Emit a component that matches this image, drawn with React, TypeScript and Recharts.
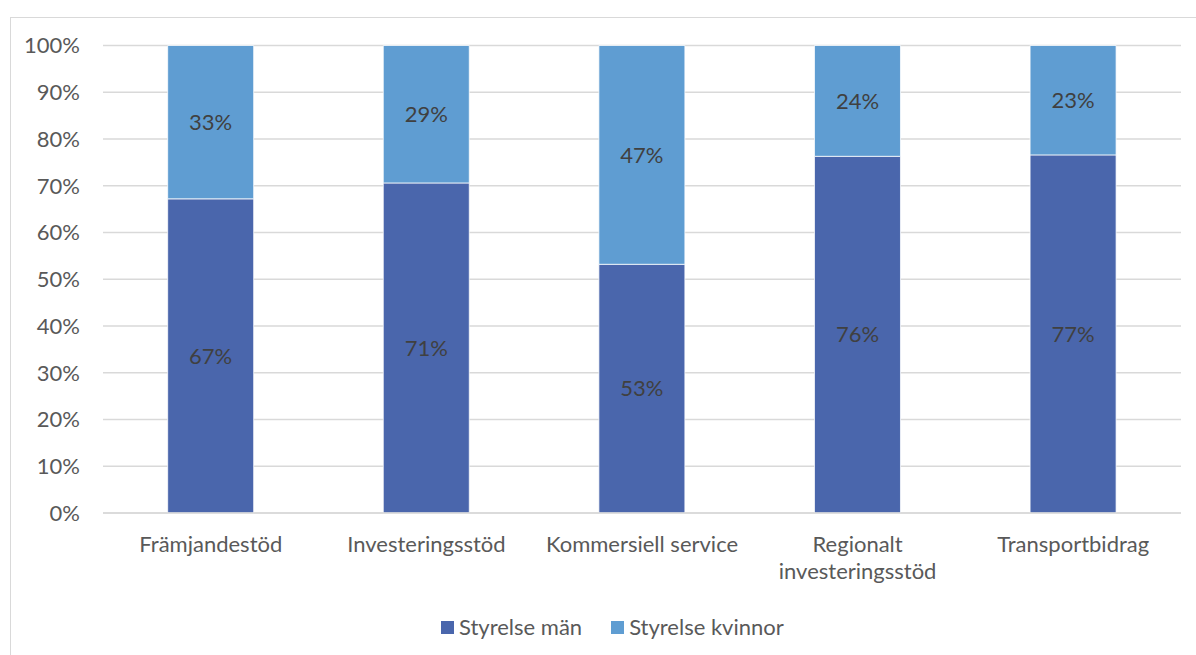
import React from 'react';
import { BarChart, Bar, XAxis, YAxis, CartesianGrid, Legend, LabelList } from 'recharts';

const categories = ['Främjandestöd', 'Investeringsstöd', 'Kommersiell service', 'Regionalt investeringsstöd', 'Transportbidrag'];
const menValues = [67.2, 70.6, 53.2, 76.3, 76.6];
const womenValues = [32.8, 29.4, 46.8, 23.7, 23.4];
const yTicks = [0, 10, 20, 30, 40, 50, 60, 70, 80, 90, 100];
const seriesNames = ['Styrelse män', 'Styrelse kvinnor'];

const MEN_COLOR = '#4A66AC';
const WOMEN_COLOR = '#5F9DD2';
const FONT = 'Lato, "Liberation Sans", Arial, sans-serif';
const FS = 22;

const data = categories.map((c, i) => ({ name: c, men: menValues[i], women: womenValues[i] }));

const XTick = (props: any) => {
  const { x, y, payload } = props;
  const label: string = payload.value;
  let lines = [label];
  if (label.length > 22 && label.indexOf(' ') > 0) {
    const idx = label.indexOf(' ');
    lines = [label.slice(0, idx), label.slice(idx + 1)];
  }
  return (
    <g transform={`translate(${x},${y})`}>
      <text textAnchor="middle" fill="#595959" fontSize={FS} fontFamily={FONT}>
        {lines.map((l, i) => (
          <tspan key={i} x={0} y={39 + i * 27}>{l}</tspan>
        ))}
      </text>
    </g>
  );
};

const LegendContent = () => {
  const colors = [MEN_COLOR, WOMEN_COLOR];
  return (
    <div style={{ display: 'flex', alignItems: 'center', paddingLeft: 441, fontFamily: FONT, fontSize: FS, color: '#595959' }}>
      {seriesNames.map((n, i) => (
        <div key={n} style={{ display: 'flex', alignItems: 'center', marginRight: 29 }}>
          <div style={{ width: 13, height: 13, background: colors[i], marginRight: 5 }} />
          <span style={{ lineHeight: '26px' }}>{n}</span>
        </div>
      ))}
    </div>
  );
};

const fmt = (v: any) => `${Math.round(Number(v))}%`;

export default function App() {
  return (
    <div style={{ position: 'absolute', left: 0, top: 0, width: 1196, height: 655, overflow: 'hidden', background: '#fff', fontFamily: FONT }}>
      <div style={{ position: 'absolute', left: 10, top: 17, width: 1300, height: 800, border: '1px solid #d9d9d9' }} />
      <div style={{ position: 'absolute', left: 0, top: 0 }}>
        <BarChart
          width={1196}
          height={655}
          data={data}
          margin={{ top: 45.5, right: 15, bottom: 112, left: 0 }}
          barCategoryGap="30%"
        >
          <CartesianGrid vertical={false} stroke="#d9d9d9" strokeWidth={1.5} />
          <XAxis
            dataKey="name"
            tick={<XTick />}
            tickLine={false}
            axisLine={{ stroke: '#d9d9d9', strokeWidth: 1.5 }}
            tickSize={0}
            tickMargin={0}
            interval={0}
          />
          <YAxis
            width={103}
            domain={[0, 100]}
            ticks={yTicks}
            tickFormatter={(v: number) => `${v}%`}
            axisLine={false}
            tickLine={false}
            tickSize={0}
            tickMargin={23}
            tick={{ fill: '#595959', fontSize: FS, fontFamily: FONT }}
            interval={0}
          />
          <Legend
            verticalAlign="middle"
            align="center"
            layout="horizontal"
            content={<LegendContent />}
            wrapperStyle={{ top: 614, left: 0, width: 1196 }}
          />
          <Bar dataKey="men" name={seriesNames[0]} stackId="a" fill={MEN_COLOR} stroke="#ffffff" strokeWidth={0.75} isAnimationActive={false}>
            <LabelList dataKey="men" position="center" formatter={fmt} fill="#404040" fontSize={FS} fontFamily={FONT} />
          </Bar>
          <Bar dataKey="women" name={seriesNames[1]} stackId="a" fill={WOMEN_COLOR} stroke="#ffffff" strokeWidth={0.75} isAnimationActive={false}>
            <LabelList dataKey="women" position="center" formatter={fmt} fill="#404040" fontSize={FS} fontFamily={FONT} />
          </Bar>
        </BarChart>
      </div>
    </div>
  );
}
